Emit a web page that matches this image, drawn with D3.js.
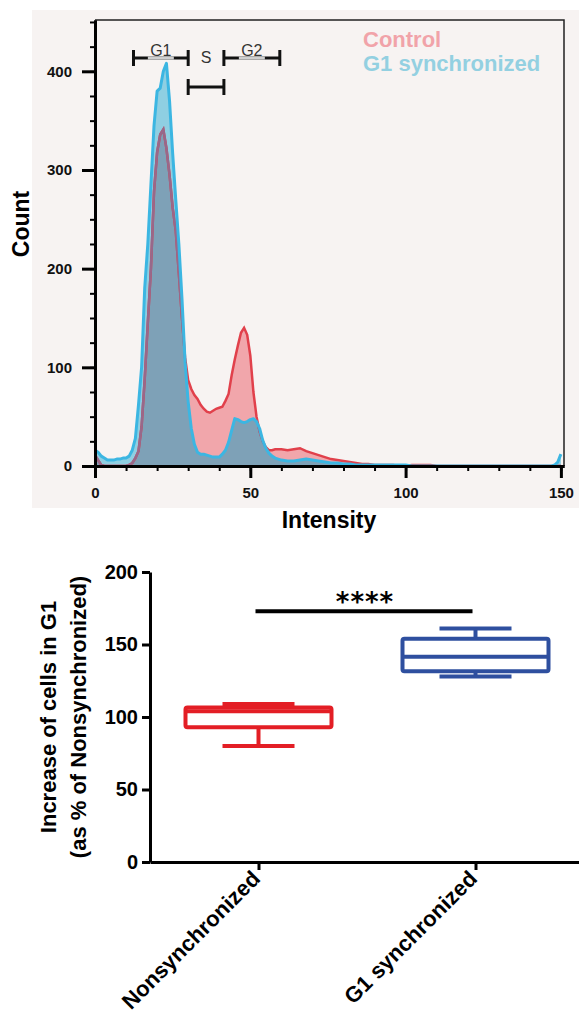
<!DOCTYPE html>
<html lang="en">
<head>
<meta charset="UTF-8">
<title>G1 synchronization</title>
<script src="https://cdn.jsdelivr.net/npm/d3@7"></script>
<style>
  body{margin:0;background:#fff;}
  svg{display:block;font-family:"Liberation Sans",Arial,sans-serif;}
</style>
</head>
<body>
<script>
// histogram (top panel)
var intensity = [0,1,2,3,4,5,6,7,8,9,10,11,12,13,14,15,16,17,18,19,20,21,22,23,24,25,26,27,28,29,30,
  31,32,33,34,35,36,37,38,39,40,41,42,43,44,45,46,47,48,49,50,51,52,53,54,55,56,57,58,59,60,
  62,64,66,68,70,72,74,76,78,80,82,84,86,88,90,92,94,96,98,100,102,104,106,108,110,
  120,130,140,147,148,149,150];
var controlCounts = [11,6,1,0,0,0,0,0,0,0,0,1,3,8,15,40,88,145,200,278,318,336,341,322,295,262,238,195,150,110,87,
  78,72,68,62,58,55,54,56,58,59,60,66,73,92,108,122,135,140,133,112,75,50,35,25,19,16,16,17,17,17,
  16,17,18,15,13,11,9,7,6,5,4,3,2,2,1,1,1,1,0,0,1,1,1,1,0,
  0,0,0,0,0,0,0];
var syncCounts = [16,14,10,8,6,6,6,7,7,8,8,10,16,28,62,100,180,225,285,345,380,383,400,408,370,317,270,225,170,105,65,
  38,22,14,12,12,11,10,9,9,9,12,16,24,36,48,47,45,44,45,47,48,45,38,26,18,13,10,8,7,6,
  5,5,6,7,6,5,4,3,3,2,2,1,1,1,1,1,1,1,1,1,0,0,0,0,0,
  0,0,0,0,1,4,12];
var countTicks = [0,100,200,300,400];
var countMinorTicks = [0,25,50,75,100,125,150,175,200,225,250,275,300,325,350,375,400,425,450];
var intensityTicks = [0,50,100,150];
var intensityMinorTicks = [0,10,20,30,40,50,60,70,80,90,100,110,120,130,140,150];
var phaseNames = ["G1","S","G2"];
var phaseStart = [12.4,30,41.5];
var phaseEnd = [30,41.5,59.5];
var legendNames = ["Control","G1 synchronized"];

// box plot (bottom panel)
var groups = ["Nonsynchronized","G1 synchronized"];
var boxMin = [80,128];
var boxQ1 = [93,131.5];
var boxMedian = [104,141.5];
var boxQ3 = [106.5,154];
var boxMax = [109,161];
var percentTicks = [0,50,100,150,200];
var sigLevel = 173;
var sigLabel = "****";

var width = 579, height = 1014;
var svg = d3.select("body").append("svg").attr("width",width).attr("height",height);

//=============== top panel
svg.append("rect").attr("x",32).attr("y",10).attr("width",547).attr("height",498).attr("fill","#f7f3f2");

var xScale = d3.scaleLinear().domain([0,151]).range([95,564]);
var yScale = d3.scaleLinear().domain([0,452]).range([466,20]);

var pts = intensity.map(function(v,i){ return {x:v, c:controlCounts[i], s:syncCounts[i]}; });

var controlArea = d3.area().x(function(d){return xScale(d.x);}).y0(yScale(0)).y1(function(d){return yScale(d.c);});
var syncArea = d3.area().x(function(d){return xScale(d.x);}).y0(yScale(0)).y1(function(d){return yScale(d.s);});
var controlLine = d3.line().x(function(d){return xScale(d.x);}).y(function(d){return yScale(d.c);});
var syncLine = d3.line().x(function(d){return xScale(d.x);}).y(function(d){return yScale(d.s);});

var defs = svg.append("defs");
defs.append("clipPath").attr("id","clipControl").append("path").attr("d",controlArea(pts));
defs.append("clipPath").attr("id","clipSync").append("path").attr("d",syncArea(pts));

// areas: blue only / pink only / overlap
svg.append("path").attr("d",syncArea(pts)).attr("fill","#8fcfe2");
svg.append("path").attr("d",controlArea(pts)).attr("fill","#f1a6ab");
svg.append("path").attr("d",syncArea(pts)).attr("fill","#7ea1b7").attr("clip-path","url(#clipControl)");
// lines
svg.append("path").attr("d",controlLine(pts)).attr("fill","none").attr("stroke","#e1404b").attr("stroke-width",2.5);
svg.append("path").attr("d",controlLine(pts)).attr("fill","none").attr("stroke","#98688a").attr("stroke-width",2.5)
   .attr("clip-path","url(#clipSync)");
svg.append("path").attr("d",syncLine(pts)).attr("fill","none").attr("stroke","#3cb6e2").attr("stroke-width",3)
   .attr("stroke-linejoin","round");

// frame top/right
svg.append("path").attr("d","M"+xScale(0)+","+yScale(452)+"H"+xScale(151)+"V"+yScale(0))
   .attr("fill","none").attr("stroke","#222").attr("stroke-width",1.5);

// axes
var yMinor = d3.axisLeft(yScale).tickValues(countMinorTicks).tickSize(5).tickSizeOuter(0).tickFormat("");
var yMajor = d3.axisLeft(yScale).tickValues(countTicks).tickSize(13).tickSizeOuter(0).tickPadding(10);
var xMinor = d3.axisBottom(xScale).tickValues(intensityMinorTicks).tickSize(5).tickSizeOuter(0).tickFormat("");
var xMajor = d3.axisBottom(xScale).tickValues(intensityTicks).tickSize(12).tickSizeOuter(0).tickPadding(9);

var gy1 = svg.append("g").attr("transform","translate("+xScale(0)+",0)").call(yMinor);
var gy2 = svg.append("g").attr("transform","translate("+xScale(0)+",0)").call(yMajor);
var gx1 = svg.append("g").attr("transform","translate(0,"+yScale(0)+")").call(xMinor);
var gx2 = svg.append("g").attr("transform","translate(0,"+yScale(0)+")").call(xMajor);
[gy1,gy2,gx1,gx2].forEach(function(g){
  g.select(".domain").attr("stroke","#000").attr("stroke-width",3);
  g.selectAll(".tick line").attr("stroke","#000").attr("stroke-width",2);
  g.selectAll(".tick text").attr("font-size",15).attr("font-weight","bold").attr("fill","#111")
   .attr("font-family","'Liberation Sans',Arial,sans-serif");
});
gy2.selectAll(".tick line").attr("stroke-width",3);
gx2.selectAll(".tick line").attr("stroke-width",3);

// phase brackets
phaseNames.forEach(function(name,i){
  var x0 = xScale(phaseStart[i]), x1 = xScale(phaseEnd[i]), mid = (x0+x1)/2;
  var yb = (name=="S") ? 87 : 58;
  var g = svg.append("g");
  g.append("line").attr("x1",x0).attr("x2",x1).attr("y1",yb).attr("y2",yb).attr("stroke","#111").attr("stroke-width",3);
  g.append("line").attr("x1",x0).attr("x2",x0).attr("y1",yb-8).attr("y2",yb+8).attr("stroke","#111").attr("stroke-width",3);
  g.append("line").attr("x1",x1).attr("x2",x1).attr("y1",yb-8).attr("y2",yb+8).attr("stroke","#111").attr("stroke-width",3);
  if(name!="S"){
    g.append("line").attr("x1",mid-13).attr("x2",mid+13).attr("y1",yb).attr("y2",yb).attr("stroke","#cfcfcf").attr("stroke-width",3);
  }
  g.append("text").attr("x",mid).attr("y",name=="S" ? 63 : 55.5).attr("text-anchor","middle")
   .attr("font-size",16).attr("fill","#333").text(name);
});

// legend
svg.selectAll(".legend").data(legendNames).enter().append("text")
   .attr("x",363).attr("y",function(d,i){return 47+i*24;})
   .attr("font-size",22).attr("font-weight","bold")
   .attr("fill",function(d,i){return i==0 ? "#f1a3a9" : "#93d0e1";})
   .text(function(d){return d;});

// axis titles
svg.append("text").attr("transform","translate(29,224) rotate(-90)").attr("text-anchor","middle")
   .attr("font-size",23).attr("font-weight","bold").text("Count");
svg.append("text").attr("x",329).attr("y",527.5).attr("text-anchor","middle")
   .attr("font-size",23).attr("font-weight","bold").text("Intensity");

//=============== bottom panel
var yP = d3.scaleLinear().domain([0,200]).range([862,572]);
var xP = d3.scalePoint().domain(groups).range([150,584]).padding(0.5);
var boxColors = ["#e31e25","#2e4f9f"];

var gyP = svg.append("g").attr("transform","translate(150,0)")
   .call(d3.axisLeft(yP).tickValues(percentTicks).tickSize(8).tickSizeOuter(0).tickPadding(4));
var gxP = svg.append("g").attr("transform","translate(0,862)")
   .call(d3.axisBottom(xP).tickSize(8).tickSizeOuter(0).tickFormat(""));
[gyP,gxP].forEach(function(g){
  g.select(".domain").attr("stroke","#000").attr("stroke-width",3);
  g.selectAll(".tick line").attr("stroke","#000").attr("stroke-width",3);
  g.selectAll(".tick text").attr("font-size",20).attr("font-weight","bold").attr("fill","#000")
   .attr("font-family","'Liberation Sans',Arial,sans-serif");
});

// category labels
svg.selectAll(".cat").data(groups).enter().append("text")
   .attr("transform",function(d){return "translate("+(xP(d)+3)+",880) rotate(-45)";})
   .attr("text-anchor","end").attr("font-size",22).attr("font-weight","bold").text(function(d){return d;});

// y title
svg.append("text").attr("transform","translate(56,717) rotate(-90)").attr("text-anchor","middle")
   .attr("font-size",22).attr("font-weight","bold").text("Increase of cells in G1");
svg.append("text").attr("transform","translate(86,717) rotate(-90)").attr("text-anchor","middle")
   .attr("font-size",22).attr("font-weight","bold").text("(as % of Nonsynchronized)");

// boxes
var boxW = 146, capW = 72;
groups.forEach(function(grp,i){
  var cx = xP(grp), col = boxColors[i];
  var g = svg.append("g").attr("stroke",col).attr("stroke-width",4).attr("fill","none").attr("stroke-linejoin","round");
  g.append("line").attr("x1",cx).attr("x2",cx).attr("y1",yP(boxQ3[i])).attr("y2",yP(boxMax[i]));
  g.append("line").attr("x1",cx).attr("x2",cx).attr("y1",yP(boxQ1[i])).attr("y2",yP(boxMin[i]));
  g.append("line").attr("x1",cx-capW/2).attr("x2",cx+capW/2).attr("y1",yP(boxMax[i])).attr("y2",yP(boxMax[i]));
  g.append("line").attr("x1",cx-capW/2).attr("x2",cx+capW/2).attr("y1",yP(boxMin[i])).attr("y2",yP(boxMin[i]));
  g.append("rect").attr("x",cx-boxW/2).attr("y",yP(boxQ3[i])).attr("width",boxW)
   .attr("height",yP(boxQ1[i])-yP(boxQ3[i])).attr("rx",2);
  g.append("line").attr("x1",cx-boxW/2).attr("x2",cx+boxW/2).attr("y1",yP(boxMedian[i])).attr("y2",yP(boxMedian[i]));
});

// significance
var sx0 = xP(groups[0])-3, sx1 = xP(groups[1])-3;
svg.append("line").attr("x1",sx0).attr("x2",sx1).attr("y1",yP(sigLevel)).attr("y2",yP(sigLevel))
   .attr("stroke","#000").attr("stroke-width",4);
svg.append("text").attr("x",(sx0+sx1)/2+1).attr("y",yP(sigLevel)).attr("text-anchor","middle")
   .attr("font-family","'DejaVu Sans',sans-serif").attr("font-size",26).attr("font-weight","bold")
   .attr("letter-spacing",1).text(sigLabel);
</script>
</body>
</html>
